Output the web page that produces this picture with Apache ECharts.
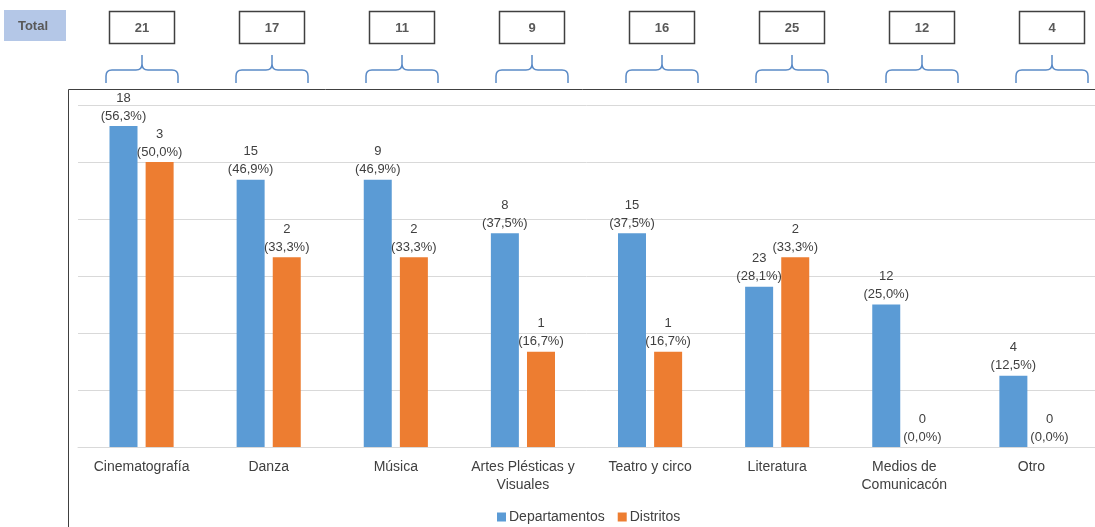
<!DOCTYPE html>
<html>
<head>
<meta charset="utf-8">
<script src="https://cdn.jsdelivr.net/npm/echarts@6/dist/echarts.min.js"></script>
<style>html,body{margin:0;padding:0;background:#fff;}#c{width:1095px;height:527px;}</style>
</head>
<body>
<div id="c"></div>
<script>
const categories = ['Cinematografía', 'Danza', 'Música', 'Artes Plésticas y\nVisuales', 'Teatro y circo', 'Literatura', 'Medios de\nComunicacón', 'Otro'];
const totals = [21, 17, 11, 9, 16, 25, 12, 4];
const depPct = [56.3, 46.9, 46.9, 37.5, 37.5, 28.1, 25.0, 12.5];
const depCount = [18, 15, 9, 8, 15, 23, 12, 4];
const disPct = [50.0, 33.3, 33.3, 16.7, 16.7, 33.3, 0.0, 0.0];
const disCount = [3, 2, 2, 1, 1, 2, 0, 0];
const seriesNames = ['Departamentos', 'Distritos'];

const FONT = 'Liberation Sans';
const TXT = '#404040';
const counts = [depCount, disCount];
function pctFmt(v) { return v.toFixed(1).replace('.', ','); }

const chart = echarts.init(document.getElementById('c'), null, {renderer: 'canvas'});

function bracePath(c) {
  return 'M' + (c - 36) + ' 83 L' + (c - 36) + ' 76 Q' + (c - 36) + ' 70 ' + (c - 30) + ' 70 L' + (c - 6) + ' 70 Q' + c + ' 70 ' + c + ' 64 L' + c + ' 55 ' +
         'M' + c + ' 64 Q' + c + ' 70 ' + (c + 6) + ' 70 L' + (c + 30) + ' 70 Q' + (c + 36) + ' 70 ' + (c + 36) + ' 76 L' + (c + 36) + ' 83';
}

const option = {
  animation: false,
  backgroundColor: '#fff',
  textStyle: {fontFamily: FONT},
  graphic: [
    {type: 'rect', shape: {x: 68.5, y: 89.5, width: 1100, height: 500}, style: {fill: 'none', stroke: '#404040', lineWidth: 1}, z: -1},
    {type: 'rect', shape: {x: 4, y: 10, width: 62, height: 31}, style: {fill: '#b4c7e7'}},
    {type: 'text', x: 33, y: 26, style: {text: 'Total', fill: '#595959', font: 'bold 13px ' + FONT, textAlign: 'center', textVerticalAlign: 'middle'}}
  ],
  legend: {
    data: seriesNames,
    left: 492,
    top: 505,
    itemWidth: 9,
    itemHeight: 9,
    itemGap: 13,
    icon: 'rect',
    textStyle: {color: TXT, fontSize: 14, fontFamily: FONT, padding: [0, 0, 0, -2]}
  },
  grid: [
    {left: 78, top: 105, right: -3, height: 342},
    {left: 0, top: 0, right: 0, height: 90}
  ],
  xAxis: [
    {
      type: 'category', data: categories, gridIndex: 0,
      axisLine: {lineStyle: {color: '#d9d9d9'}},
      axisTick: {show: false},
      axisLabel: {color: TXT, fontSize: 14, fontFamily: FONT, margin: 11, lineHeight: 18, interval: 0}
    },
    {type: 'value', min: -1.093, max: 7.33, gridIndex: 1, show: false}
  ],
  yAxis: [
    {
      type: 'value', min: 0, max: 60, interval: 10, gridIndex: 0,
      axisLabel: {show: false}, axisLine: {show: false}, axisTick: {show: false},
      splitLine: {lineStyle: {color: '#d9d9d9', width: 1}}
    },
    {type: 'value', min: 0, max: 1, gridIndex: 1, show: false}
  ],
  series: [
    {
      name: seriesNames[0], type: 'bar', data: depPct, barWidth: 28, barGap: '29%',
      itemStyle: {color: '#5b9bd5'},
      label: {
        show: true, position: 'top', distance: 1, color: TXT, fontSize: 13, fontFamily: FONT, lineHeight: 18,
        formatter: p => counts[0][p.dataIndex] + '\n(' + pctFmt(p.value) + '%)'
      }
    },
    {
      name: seriesNames[1], type: 'bar', data: disPct, barWidth: 28,
      itemStyle: {color: '#ed7d31'},
      label: {
        show: true, position: 'top', distance: 1, color: TXT, fontSize: 13, fontFamily: FONT, lineHeight: 18,
        formatter: p => counts[1][p.dataIndex] + '\n(' + pctFmt(p.value) + '%)'
      }
    },
    {
      type: 'custom', xAxisIndex: 1, yAxisIndex: 1, clip: false, silent: true,
      data: totals.map((t, i) => [i, t]),
      renderItem: function (params, api) {
        const c = Math.round(api.coord([api.value(0), 0])[0]);
        return {
          type: 'group',
          children: [
            {type: 'rect', shape: {x: c - 32.5, y: 11.5, width: 65, height: 32}, style: {fill: '#fff', stroke: '#404040', lineWidth: 1.5}},
            {type: 'text', x: c, y: 28, style: {text: String(api.value(1)), fill: '#595959', font: 'bold 13px ' + FONT, textAlign: 'center', textVerticalAlign: 'middle'}},
            {type: 'path', shape: {pathData: bracePath(c)}, style: {fill: 'none', stroke: '#5a8ac6', lineWidth: 1.5}}
          ]
        };
      }
    }
  ]
};
chart.setOption(option);
</script>
</body>
</html>
